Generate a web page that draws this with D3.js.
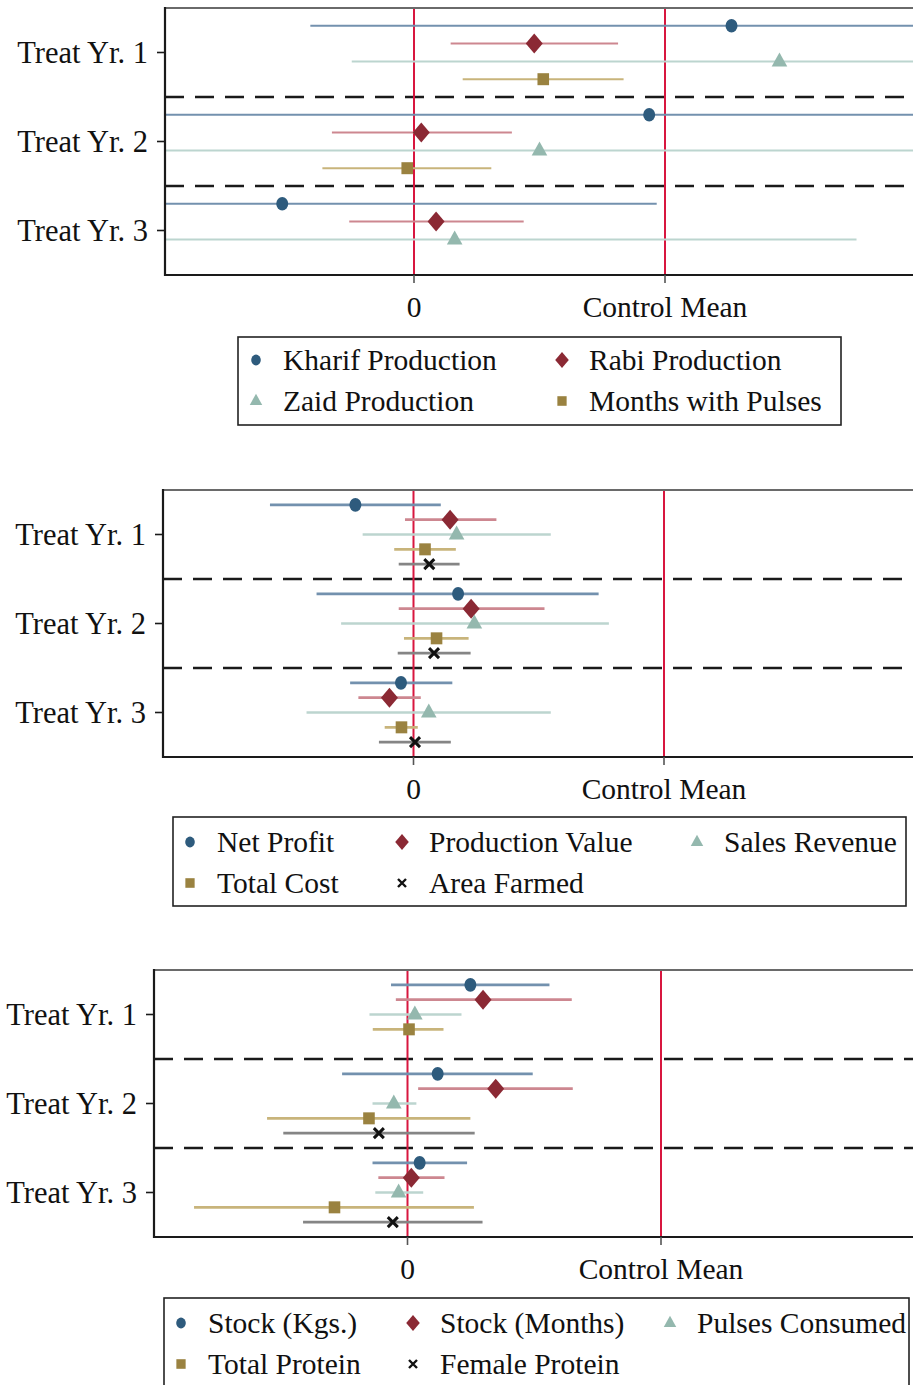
<!DOCTYPE html>
<html>
<head>
<meta charset="utf-8">
<script src="https://cdn.jsdelivr.net/npm/d3@7"></script>
<style>
  html, body { margin: 0; padding: 0; background: #fff; }
  svg { display: block; }
  text { font-family: "Liberation Serif", "DejaVu Serif", serif; fill: #111; }
</style>
</head>
<body>
<svg id="chart" width="913" height="1385"></svg>
<script>
// Row (coefficient) labels and x-axis tick labels
const yearLabels = ["Treat Yr. 1", "Treat Yr. 2", "Treat Yr. 3"];
const xTickValues = [0, 1];
const xTickLabels = ["0", "Control Mean"];

// Each entry: [estimate, CI low, CI high] per treatment year, scaled so 1 = control mean
// Panel A: production
const cropSeries = ["Kharif Production", "Rabi Production", "Zaid Production", "Months with Pulses"];
const kharifProduction = [[1.265, -0.413, 2.94], [0.937, -1.10, 2.97], [-0.525, -2.02, 0.967]];
const rabiProduction   = [[0.479, 0.146, 0.813], [0.029, -0.327, 0.390], [0.088, -0.258, 0.437]];
const zaidProduction   = [[1.456, -0.248, 3.16], [0.500, -1.20, 2.20], [0.162, -1.44, 1.763]];
const monthsWithPulses = [[0.515, 0.194, 0.835], [-0.027, -0.365, 0.308], null];

// Panel B: farm finances
const financeSeries = ["Net Profit", "Production Value", "Sales Revenue", "Total Cost", "Area Farmed"];
const netProfit       = [[-0.232, -0.573, 0.109], [0.178, -0.387, 0.739], [-0.050, -0.253, 0.155]];
const productionValue = [[0.146, -0.034, 0.331], [0.230, -0.059, 0.523], [-0.096, -0.220, 0.029]];
const salesRevenue    = [[0.172, -0.203, 0.548], [0.243, -0.289, 0.780], [0.061, -0.427, 0.548]];
const totalCost       = [[0.046, -0.077, 0.169], [0.092, -0.038, 0.220], [-0.048, -0.115, 0.017]];
const areaFarmed      = [[0.063, -0.059, 0.184], [0.082, -0.063, 0.228], [0.006, -0.138, 0.149]];

// Panel C: stocks and consumption
const consumptionSeries = ["Stock (Kgs.)", "Stock (Months)", "Pulses Consumed", "Total Protein", "Female Protein"];
const stockKgs       = [[0.248, -0.065, 0.560], [0.119, -0.258, 0.494], [0.048, -0.138, 0.235]];
const stockMonths    = [[0.298, -0.046, 0.648], [0.348, 0.042, 0.652], [0.015, -0.115, 0.146]];
const pulsesConsumed = [[0.029, -0.150, 0.213], [-0.054, -0.138, 0.035], [-0.035, -0.127, 0.062]];
const totalProtein   = [[0.006, -0.137, 0.142], [-0.152, -0.554, 0.248], [-0.288, -0.842, 0.262]];
const femaleProtein  = [null, [-0.113, -0.490, 0.265], [-0.058, -0.412, 0.296]];

// Series styles (marker fill, CI line colour, marker shape)
const styles = [
  { fill: "#2e5b7d", line: "#7391ae", shape: "circle" },
  { fill: "#8b2934", line: "#cd8790", shape: "diamond" },
  { fill: "#94b8ae", line: "#bcd5cf", shape: "triangle" },
  { fill: "#9a8240", line: "#c8b47b", shape: "square" },
  { fill: "#111111", line: "#858585", shape: "x" }
];

const panels = [
  { names: cropSeries, data: [kharifProduction, rabiProduction, zaidProduction, monthsWithPulses],
    left: 165, top: 8, bottom: 275, zero: 414, cm: 665, lw: 2,
    legend: { box: [238, 337, 841, 425], cols: [256, 562], ncol: 2, rows: [360, 401] } },
  { names: financeSeries, data: [netProfit, productionValue, salesRevenue, totalCost, areaFarmed],
    left: 163, top: 490, bottom: 757, zero: 413.5, cm: 664, lw: 2.6,
    legend: { box: [173, 817, 906, 906], cols: [190, 402, 697], ncol: 3, rows: [842, 883] } },
  { names: consumptionSeries, data: [stockKgs, stockMonths, pulsesConsumed, totalProtein, femaleProtein],
    left: 154, top: 970, bottom: 1237, zero: 407.5, cm: 661, lw: 2.6,
    legend: { box: [164, 1298, 909, 1395], cols: [181, 413, 670], ncol: 3, rows: [1323, 1364] } }
];

const svg = d3.select("#chart");
const W = 913;
const FONT = 29.5;

function markerPath(shape, s) {
  // s = scale factor (1 for plot markers)
  switch (shape) {
    case "diamond": return `M0,${-10*s}L${8.5*s},0L0,${10*s}L${-8.5*s},0Z`;
    case "triangle": return `M0,${-9*s}L${7.8*s},${5*s}L${-7.8*s},${5*s}Z`;
    case "square": return `M${-5.8*s},${-6*s}H${5.8*s}V${6*s}H${-5.8*s}Z`;
    case "x": return `M${-5*s},${-5*s}L${5*s},${5*s}M${5*s},${-5*s}L${-5*s},${5*s}`;
    default: return null;
  }
}

function drawMarker(g, st, cx, cy, s) {
  if (st.shape === "circle") {
    g.append("ellipse").attr("cx", cx).attr("cy", cy)
      .attr("rx", 6 * s).attr("ry", 6.8 * s).attr("fill", st.fill);
  } else if (st.shape === "x") {
    g.append("path").attr("d", markerPath("x", s))
      .attr("transform", `translate(${cx},${cy})`)
      .attr("fill", "none").attr("stroke", st.fill).attr("stroke-width", 3 * Math.max(s, 0.8));
  } else {
    g.append("path").attr("d", markerPath(st.shape, s))
      .attr("transform", `translate(${cx},${cy})`)
      .attr("fill", st.fill);
  }
}

panels.forEach((p, pi) => {
  const g = svg.append("g");
  const x = d3.scaleLinear().domain([0, 1]).range([p.zero, p.cm]);
  const y = d3.scaleLinear().domain([0.5, 3.5]).range([p.top, p.bottom]);
  const n = p.names.length;
  const step = n === 4 ? 0.2 : 1 / 6;
  const offset = i => (i - (n - 1) / 2) * step;

  const clipId = "clip" + pi;
  svg.append("clipPath").attr("id", clipId).append("rect")
    .attr("x", p.left).attr("y", p.top).attr("width", W - p.left + 20).attr("height", p.bottom - p.top);

  const plot = g.append("g").attr("clip-path", `url(#${clipId})`);

  // dashed separators between treatment years
  [1.5, 2.5].forEach(v => {
    plot.append("line").attr("x1", p.left).attr("x2", W + 10)
      .attr("y1", y(v)).attr("y2", y(v))
      .attr("stroke", "#1a1a1a").attr("stroke-width", 2.4).attr("stroke-dasharray", "19,11");
  });

  // reference lines at zero and at the control mean
  xTickValues.forEach(v => {
    plot.append("line").attr("x1", x(v)).attr("x2", x(v))
      .attr("y1", p.top).attr("y2", p.bottom)
      .attr("stroke", "#d8163f").attr("stroke-width", 2);
  });

  // confidence intervals
  p.data.forEach((series, si) => {
    series.forEach((d, yi) => {
      if (!d) return;
      const yy = y(yi + 1 + offset(si));
      plot.append("line").attr("x1", x(d[1])).attr("x2", x(d[2]))
        .attr("y1", yy).attr("y2", yy)
        .attr("stroke", styles[si].line).attr("stroke-width", p.lw);
    });
  });

  // point estimates
  p.data.forEach((series, si) => {
    series.forEach((d, yi) => {
      if (!d) return;
      drawMarker(plot, styles[si], x(d[0]), y(yi + 1 + offset(si)), 1);
    });
  });

  // frame: top border grey, left and bottom axes dark
  g.append("line").attr("x1", p.left).attr("x2", W + 10).attr("y1", p.top).attr("y2", p.top)
    .attr("stroke", "#6a6a6a").attr("stroke-width", 2.2);
  g.append("line").attr("x1", p.left).attr("x2", p.left).attr("y1", p.top - 1).attr("y2", p.bottom + 1)
    .attr("stroke", "#1a1a1a").attr("stroke-width", 2.2);
  g.append("line").attr("x1", p.left - 1).attr("x2", W + 10).attr("y1", p.bottom).attr("y2", p.bottom)
    .attr("stroke", "#1a1a1a").attr("stroke-width", 2.2);

  // y axis ticks and labels
  yearLabels.forEach((lab, i) => {
    const yy = y(i + 1);
    g.append("line").attr("x1", p.left - 8).attr("x2", p.left).attr("y1", yy).attr("y2", yy)
      .attr("stroke", "#1a1a1a").attr("stroke-width", 1.6);
    g.append("text").attr("x", p.left - 17).attr("y", yy + 10)
      .attr("text-anchor", "end").attr("font-size", 30.5).text(lab);
  });

  // x axis ticks and labels
  xTickValues.forEach((v, i) => {
    g.append("line").attr("x1", x(v)).attr("x2", x(v)).attr("y1", p.bottom).attr("y2", p.bottom + 8)
      .attr("stroke", "#555").attr("stroke-width", 1.6);
    g.append("text").attr("x", x(v)).attr("y", p.bottom + 42)
      .attr("text-anchor", "middle").attr("font-size", FONT).text(xTickLabels[i]);
  });

  // legend
  const L = p.legend;
  g.append("rect").attr("x", L.box[0]).attr("y", L.box[1])
    .attr("width", L.box[2] - L.box[0]).attr("height", L.box[3] - L.box[1])
    .attr("fill", "none").attr("stroke", "#222").attr("stroke-width", 1.6);
  p.names.forEach((name, si) => {
    const col = si % L.ncol, row = Math.floor(si / L.ncol);
    const mx = L.cols[col], my = L.rows[row];
    drawMarker(g, styles[si], mx, my, 0.8);
    g.append("text").attr("x", mx + 27).attr("y", my + 10)
      .attr("font-size", FONT).text(name);
  });
});
</script>
</body>
</html>
